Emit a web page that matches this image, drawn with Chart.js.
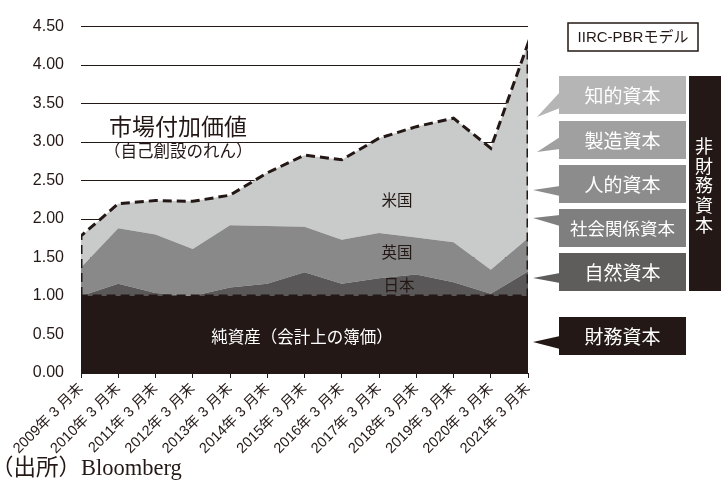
<!DOCTYPE html>
<html lang="ja">
<head>
  <meta charset="UTF-8">
  <title>IIRC-PBRモデル</title>
  <script src="https://cdn.jsdelivr.net/npm/chart.js"></script>
  <style>
    body { margin: 0; background: #fff; }
    #wrap { width: 721px; height: 482px; }
  </style>
</head>
<body>
  <div id="wrap"><canvas id="grafico" width="721" height="482"></canvas></div>

  <script>
    // 各年3月末
    const labels = ['2009年 3 月末', '2010年 3 月末', '2011年 3 月末', '2012年 3 月末', '2013年 3 月末',
      '2014年 3 月末', '2015年 3 月末', '2016年 3 月末', '2017年 3 月末', '2018年 3 月末',
      '2019年 3 月末', '2020年 3 月末', '2021年 3 月末'];
    // PBR（倍）
    const netAssets = [1, 1, 1, 1, 1, 1, 1, 1, 1, 1, 1, 1, 1];
    const japan = [1.00, 1.16, 1.04, 1.00, 1.11, 1.16, 1.31, 1.16, 1.23, 1.28, 1.18, 1.03, 1.32];
    const uk = [1.37, 1.88, 1.80, 1.61, 1.92, 1.91, 1.90, 1.73, 1.82, 1.76, 1.70, 1.34, 1.75];
    const us = [1.78, 2.20, 2.24, 2.23, 2.31, 2.60, 2.83, 2.77, 3.05, 3.20, 3.31, 2.92, 4.28];
    const yTicks = [0, 0.5, 1, 1.5, 2, 2.5, 3, 3.5, 4, 4.5];

    const INK = '#231815';
    const SANS = "'Liberation Sans', 'Noto Sans CJK JP', sans-serif";
    const CJK = "'Noto Sans CJK JP', sans-serif";

    const pts = arr => arr.map((v, i) => ({ x: i, y: v }));

    // 市場付加価値の枠（破線）
    const last = labels.length - 1;
    const outline = [{ x: 0, y: netAssets[0] }]
      .concat(pts(us))
      .concat([{ x: last, y: netAssets[last] }, { x: 0, y: netAssets[0] }]);

    const area = (label, data, color, fill) => ({
      label, data: pts(data), backgroundColor: color, borderWidth: 0,
      pointRadius: 0, fill, tension: 0
    });

    // 右側の吹き出し
    const callouts = [
      { t: '知的資本', y: 76, c: '#b5b5b6', base: [92, 108], tip: [537, 117], f: 19 },
      { t: '製造資本', y: 121, c: '#a0a0a0', base: [137, 149], tip: [537, 152], f: 19 },
      { t: '人的資本', y: 165, c: '#8c8c8c', base: [186, 196], tip: [533, 190], f: 19 },
      { t: '社会関係資本', y: 209, c: '#7f7f7f', base: [215, 226], tip: [533, 218], f: 17.5 },
      { t: '自然資本', y: 253, c: '#5f5c5c', base: [273, 283], tip: [533, 278], f: 19 },
      { t: '財務資本', y: 317, c: INK, base: [336, 349], tip: [533, 342], f: 19 }
    ];

    const notes = {
      id: 'notes',
      afterDraw(chart) {
        const ctx = chart.ctx;
        ctx.save();
        ctx.textBaseline = 'middle';

        // グラフ内の文字
        ctx.fillStyle = INK;
        ctx.textAlign = 'left';
        ctx.font = '23px ' + CJK;
        ctx.fillText('市場付加価値', 109, 126);
        ctx.font = '16.5px ' + CJK;
        ctx.fillText('（自己創設のれん）', 104, 151);
        ctx.textAlign = 'center';
        ctx.font = '15.5px ' + CJK;
        ctx.fillText('米国', 397, 200);
        ctx.fillText('英国', 397, 252);
        ctx.fillText('日本', 399, 285);
        ctx.fillStyle = '#fff';
        ctx.font = '16.5px ' + CJK;
        ctx.fillText('純資産（会計上の簿価）', 302, 337);

        // IIRC-PBRモデル
        ctx.fillStyle = '#fff';
        ctx.fillRect(568, 23, 130, 28);
        ctx.strokeStyle = INK;
        ctx.lineWidth = 1.5;
        ctx.strokeRect(568, 23, 130, 28);
        ctx.fillStyle = INK;
        ctx.font = '15px ' + SANS;
        ctx.fillText('IIRC-PBRモデル', 633, 37.5);

        // 吹き出し
        callouts.forEach(b => {
          ctx.fillStyle = b.c;
          ctx.fillRect(559, b.y, 127, 38);
          ctx.beginPath();
          ctx.moveTo(560, b.base[0]);
          ctx.lineTo(b.tip[0], b.tip[1]);
          ctx.lineTo(560, b.base[1]);
          ctx.closePath();
          ctx.fill();
          ctx.fillStyle = '#fff';
          ctx.font = b.f + 'px ' + CJK;
          ctx.fillText(b.t, 622.5, b.y + 19.5);
        });

        // 非財務資本
        ctx.fillStyle = INK;
        ctx.fillRect(689, 76, 32, 215);
        ctx.fillStyle = '#fff';
        ctx.font = '18px ' + CJK;
        '非財務資本'.split('').forEach((ch, i) => ctx.fillText(ch, 704, 146 + i * 19.8));

        // 出所
        ctx.fillStyle = INK;
        ctx.textAlign = 'left';
        ctx.font = "22.5px 'Liberation Serif', 'Noto Sans CJK JP', serif";
        ctx.fillText('（出所）Bloomberg', -9, 469);
        ctx.restore();
      }
    };

    new Chart(document.getElementById('grafico').getContext('2d'), {
      type: 'line',
      data: {
        datasets: [
          {
            label: '市場付加価値', data: outline, borderColor: INK, borderWidth: 3,
            borderDash: [9, 5], pointRadius: 0, fill: false, tension: 0
          },
          area('純資産', netAssets, INK, 'origin'),
          area('日本', japan, '#595757', '-1'),
          area('英国', uk, '#898989', '-1'),
          area('米国', us, '#c9caca', '-1')
        ]
      },
      options: {
        responsive: false,
        animation: false,
        devicePixelRatio: 1,
        layout: { padding: { top: 21, right: 193, bottom: 0, left: 0 } },
        plugins: { legend: { display: false }, tooltip: { enabled: false } },
        scales: {
          x: {
            type: 'linear', min: 0, max: last,
            afterFit: s => { s.height = 109; },
            border: { display: true, color: INK, width: 1 },
            grid: { drawOnChartArea: false, drawTicks: true, tickLength: 5, color: INK },
            ticks: {
              stepSize: 1, autoSkip: false, maxRotation: 45, minRotation: 45,
              color: INK, padding: 2, font: { size: 14.5, family: SANS },
              callback: v => labels[v]
            }
          },
          y: {
            min: 0, max: 4.5,
            afterFit: s => { s.width = 81; },
            afterBuildTicks: s => { s.ticks = yTicks.map(v => ({ value: v })); },
            border: { display: false },
            grid: { color: INK, lineWidth: 1, drawTicks: false },
            ticks: {
              padding: 17, color: INK, font: { size: 16, family: SANS },
              callback: v => v.toFixed(2)
            }
          }
        }
      },
      plugins: [notes]
    });
  </script>
</body>
</html>
